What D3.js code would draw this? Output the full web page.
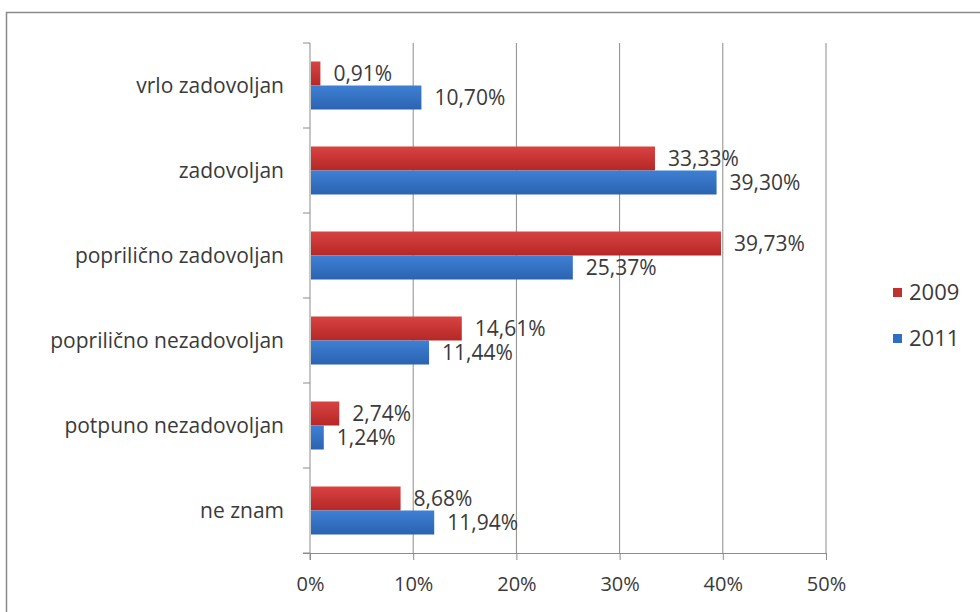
<!DOCTYPE html>
<html><head><meta charset="utf-8">
<script src="https://cdn.jsdelivr.net/npm/d3@7/dist/d3.min.js"></script>
<style>body{margin:0;background:#fff}svg{display:block}</style>
</head><body>
<script>
const categories = ["vrlo zadovoljan","zadovoljan","poprilično zadovoljan","poprilično nezadovoljan","potpuno nezadovoljan","ne znam"];
const series = ["2009","2011"];
const values2009 = [0.91, 33.33, 39.73, 14.61, 2.74, 8.68];
const values2011 = [10.70, 39.30, 25.37, 11.44, 1.24, 11.94];
const labels2009 = ["0,91%","33,33%","39,73%","14,61%","2,74%","8,68%"];
const labels2011 = ["10,70%","39,30%","25,37%","11,44%","1,24%","11,94%"];
const xTicks = [0,10,20,30,40,50];
const colors = ["#c0302f","#2f6fc3"];

const W=980,H=612;
const svg=d3.select("body").append("svg").attr("width",W).attr("height",H);
const font="'Open Sans', sans-serif";
const txt="#3a3a3a";
svg.append("rect").attr("x",6.5).attr("y",12.5).attr("width",W).attr("height",H).attr("fill","#fff").attr("stroke","#8a8a8a").attr("stroke-width",1.5);

const defs=svg.append("defs");
[["g0","#d84342","#b52726"],["g1","#3f80d4","#2a63b0"]].forEach(([id,a,b])=>{
  const g=defs.append("linearGradient").attr("id",id).attr("x1",0).attr("y1",0).attr("x2",0).attr("y2",1);
  g.append("stop").attr("offset","0%").attr("stop-color",a);
  g.append("stop").attr("offset","100%").attr("stop-color",b);
});

const x=d3.scaleLinear().domain([0,50]).range([310,826]);
const y=d3.scaleBand().domain(categories).range([43,553]).paddingInner(0).paddingOuter(0);
const inner=d3.scaleBand().domain(series).range([0,48]);
const off=(y.bandwidth()-48)/2;

// gridlines
svg.append("g").selectAll("line").data(xTicks.slice(1)).join("line")
  .attr("x1",d=>x(d)).attr("x2",d=>x(d)).attr("y1",43).attr("y2",553)
  .attr("stroke","#8c8c8c").attr("stroke-width",1);

// x axis
const xa=svg.append("g").attr("transform","translate(0,553)")
  .call(d3.axisBottom(x).tickValues(xTicks).tickFormat(d=>d+"%").tickSize(7).tickSizeOuter(0));
xa.select(".domain").attr("stroke","#8c8c8c").attr("d","M303,0.5H826");
xa.selectAll(".tick line").attr("stroke","#8c8c8c");
xa.selectAll("text").attr("font-family",font).attr("font-size",20).attr("fill",txt).attr("y",32).attr("dy","0.32em");

// y axis
const ya=svg.append("g").attr("transform","translate(310,0)");
ya.append("line").attr("x1",0).attr("x2",0).attr("y1",43).attr("y2",560).attr("stroke","#8c8c8c");
const bounds=categories.map(c=>y(c)).concat([553]);
ya.selectAll(".tk").data(bounds).join("line").attr("class","tk")
  .attr("x1",-7).attr("x2",0).attr("y1",d=>d).attr("y2",d=>d).attr("stroke","#8c8c8c");
ya.selectAll("text").data(categories).join("text")
  .attr("x",-26).attr("y",c=>y(c)+y.bandwidth()/2).attr("dy","0.35em")
  .attr("text-anchor","end").attr("font-family",font).attr("font-size",21).attr("fill",txt)
  .text(d=>d);

// bars
const data=[values2009,values2011];
const labs=[labels2009,labels2011];
series.forEach((s,si)=>{
  const g=svg.append("g");
  g.selectAll("rect").data(categories).join("rect")
    .attr("x",x(0)+1).attr("y",(c)=>y(c)+off+inner(s))
    .attr("width",(c,i)=>x(data[si][i])-x(0)).attr("height",inner.bandwidth())
    .attr("fill",`url(#g${si})`);
  g.selectAll("text").data(categories).join("text")
    .attr("x",(c,i)=>x(data[si][i])+14).attr("y",c=>y(c)+off+inner(s)+inner.bandwidth()/2)
    .attr("dy","0.35em").attr("font-family",font).attr("font-size",21).attr("fill",txt)
    .text((c,i)=>labs[si][i]);
});

// legend
const lg=svg.append("g").selectAll("g").data(series).join("g")
  .attr("transform",(d,i)=>`translate(893,${288+i*46})`);
lg.append("rect").attr("width",9).attr("height",9).attr("fill",(d,i)=>colors[i]);
lg.append("text").attr("x",16).attr("y",4.5).attr("dy","0.35em").attr("font-family",font)
  .attr("font-size",22).attr("fill",txt).text(d=>d);
</script>
</body></html>
